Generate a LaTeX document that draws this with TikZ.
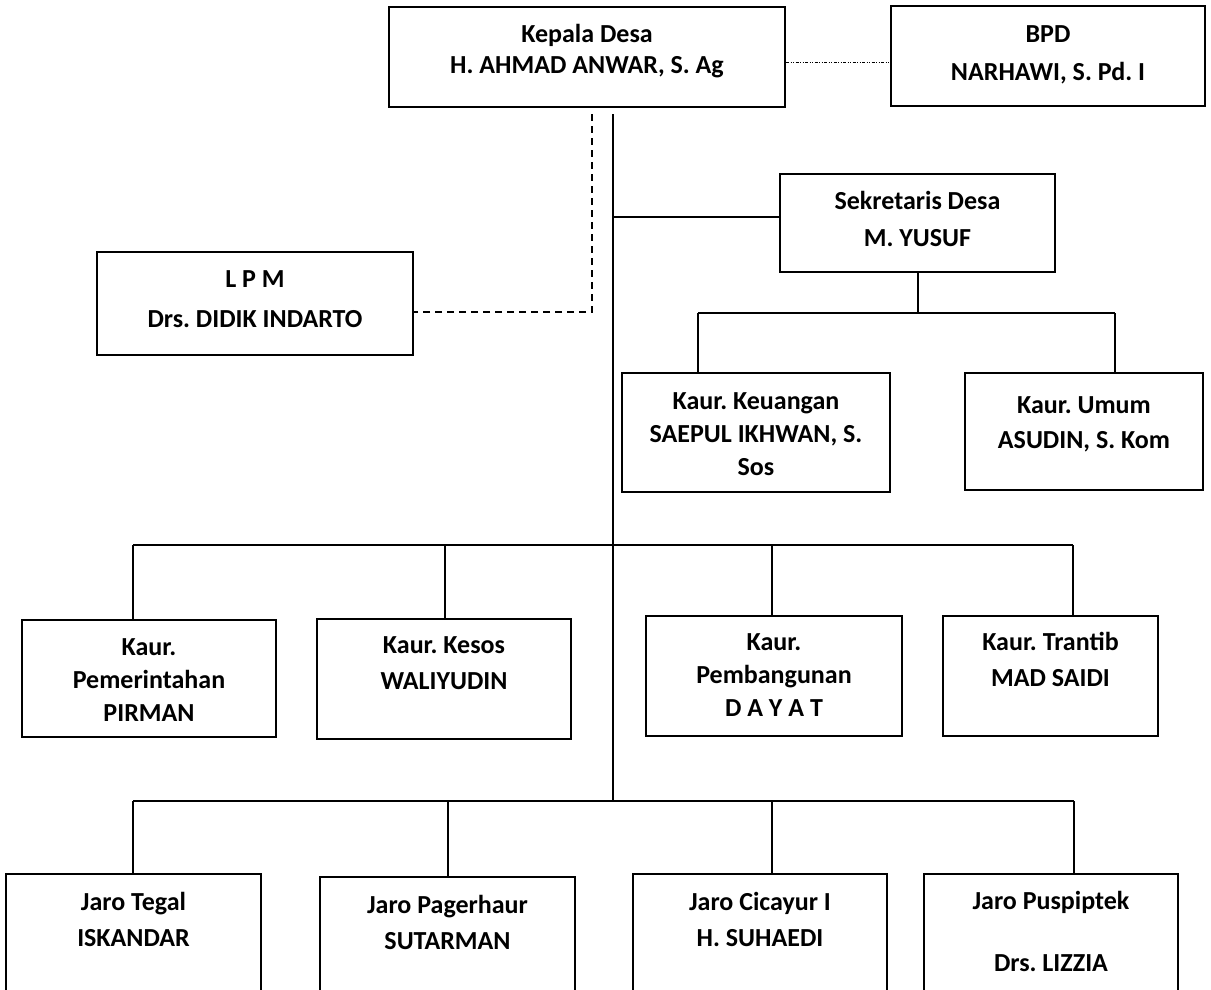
\documentclass[tikz,border=0pt]{standalone}
\usepackage{fontspec}
\setmainfont{Carlito}
\usetikzlibrary{fit}
\frenchspacing
\tikzset{
  boxst/.style={draw, line width=2pt, inner sep=0pt, rectangle},
  lbl/.style={align=center, inner sep=0pt, anchor=north},
  conn/.style={line width=1.5pt},
  dashconn/.style={line width=1.5pt, dash pattern=on 7pt off 5pt},
  dotconn/.style={line width=1pt, dash pattern=on 3pt off 1.5pt on 1pt off 1.5pt on 1pt off 1.5pt},
}
% name, x1, y1, x2, y2, first baseline, baselineskip, text
\newcommand\obox[8]{%
  \node[boxst, fit={(#2,#3)(#4,#5)}] (#1) {};
  \node[lbl, font=\frenchspacing\bfseries\fontsize{26}{#7}\selectfont] (#1t) at ({(#2+#4)/2}, #6-20) {\rule{0pt}{20pt}#8};
}
\begin{document}
\begin{tikzpicture}[x=1pt,y=-1pt]
\useasboundingbox (0,0) rectangle (1211,989);
\clip (0,0) rectangle (1211,989);

\obox{kd}{389}{7}{785}{107}{42}{31}{Kepala Desa\\H. AHMAD ANWAR, S. Ag}
\obox{bpd}{891}{6}{1205}{106}{42}{38}{BPD\\NARHAWI, S. Pd. I}
\obox{lpm}{97}{252}{413}{355}{287}{40}{L P M\\Drs. DIDIK INDARTO}
\obox{sek}{780}{174}{1055}{272}{209}{37}{Sekretaris Desa\\M. YUSUF}
\obox{keu}{622}{373}{890}{492}{409}{33}{Kaur. Keuangan\\SAEPUL IKHWAN, S.\\Sos}
\obox{umum}{965}{373}{1203}{490}{413}{35}{Kaur. Umum\\ASUDIN, S. Kom}
\obox{pem}{22}{620}{276}{737}{655}{33}{Kaur.\\Pemerintahan\\PIRMAN}
\obox{kesos}{317}{619}{571}{739}{653}{36}{Kaur. Kesos\\WALIYUDIN}
\obox{bang}{646}{616}{902}{736}{650}{33}{Kaur.\\Pembangunan\\D A Y A T}
\obox{trantib}{943}{616}{1158}{736}{650}{36}{Kaur. Trantib\\MAD SAIDI}
\obox{tegal}{6}{874}{261}{1010}{910}{36}{Jaro Tegal\\ISKANDAR}
\obox{pager}{320}{877}{575}{1010}{913}{36}{Jaro Pagerhaur\\SUTARMAN}
\obox{cicayur}{633}{874}{887}{1010}{910}{36}{Jaro Cicayur I\\H. SUHAEDI}
\obox{pusp}{924}{874}{1178}{1010}{909}{62}{Jaro Puspiptek\\Drs. LIZZIA}

% dotted link Kepala Desa -- BPD
\draw[dotconn] (kd.east |- 0,62) -- (bpd.west |- 0,62);

% dashed link Kepala Desa -- LPM
\coordinate (dtop) at (592,114);
\coordinate (dcor) at (592,312);
\draw[dashconn] (dtop) -- (dcor) -- (lpm.east |- dcor);

% main trunk
\coordinate (mtop) at (613,114);
\coordinate (mbot) at (613,801);
\draw[conn] (mtop) -- (mbot);

% Sekretaris branch
\coordinate (ms) at (613,217);
\draw[conn] (ms) -- (sek.west |- ms);
\coordinate (s1) at (918,313);
\draw[conn] (sek.south -| s1) -- (s1);
\coordinate (b1l) at (698,313);
\coordinate (b1r) at (1115,313);
\draw[conn] (b1l) -- (b1r);
\draw[conn] (b1l) -- (b1l |- keu.north);
\draw[conn] (b1r) -- (b1r |- umum.north);

% Kaur row
\coordinate (b2a) at (133,545);
\coordinate (b2b) at (445,545);
\coordinate (b2c) at (772,545);
\coordinate (b2d) at (1073,545);
\draw[conn] (b2a) -- (b2d);
\draw[conn] (b2a) -- (b2a |- pem.north);
\draw[conn] (b2b) -- (b2b |- kesos.north);
\draw[conn] (b2c) -- (b2c |- bang.north);
\draw[conn] (b2d) -- (b2d |- trantib.north);

% Jaro row
\coordinate (b3a) at (133,801);
\coordinate (b3b) at (448,801);
\coordinate (b3c) at (772,801);
\coordinate (b3d) at (1074,801);
\draw[conn] (b3a) -- (b3d);
\draw[conn] (b3a) -- (b3a |- tegal.north);
\draw[conn] (b3b) -- (b3b |- pager.north);
\draw[conn] (b3c) -- (b3c |- cicayur.north);
\draw[conn] (b3d) -- (b3d |- pusp.north);
\end{tikzpicture}
\end{document}
